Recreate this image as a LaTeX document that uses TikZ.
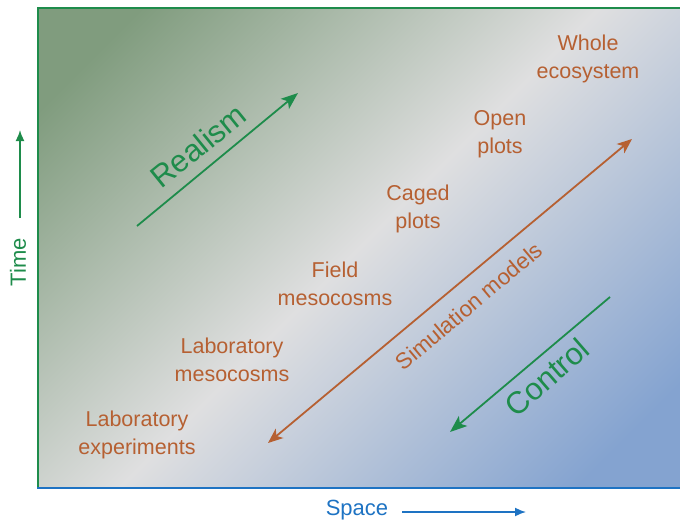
\documentclass[tikz,border=0pt]{standalone}
\usepackage{fontspec}
\setmainfont{Liberation Sans}
\usetikzlibrary{arrows.meta}

\definecolor{bgGreen}{RGB}{128,156,126}
\definecolor{bgGrey}{RGB}{223,223,224}
\definecolor{bgBlue}{RGB}{132,163,208}
\definecolor{ecoGreen}{RGB}{30,140,75}
\definecolor{ecoBrown}{RGB}{182,96,50}
\definecolor{axisBlue}{RGB}{30,115,195}

% diagonal background: green -> grey -> blue
\pgfdeclarehorizontalshading{scaleshade}{100bp}{color(0bp)=(bgGreen); color(21bp)=(bgGreen); color(50bp)=(bgGrey); color(79bp)=(bgBlue); color(100bp)=(bgBlue)}

\tikzset{
  scalelabel/.style={text=ecoBrown, align=center, inner sep=0pt,
    font=\fontsize{21.5}{27.5}\selectfont},
  trendline/.style={draw=ecoGreen, line width=1.8pt,
    -{Stealth[length=17pt,width=13pt,inset=4pt]}},
  trendtext/.style={text=ecoGreen, inner sep=0pt, font=\fontsize{31}{36}\selectfont},
  simline/.style={draw=ecoBrown, line width=1.8pt,
    {Stealth[length=15pt,width=12pt,inset=4pt]}-{Stealth[length=15pt,width=12pt,inset=4pt]}},
  axislabel/.style={inner sep=0pt, font=\fontsize{22}{26}\selectfont},
  axisarrow/.style={line width=1.6pt, -{Latex[length=11pt,width=9pt]}},
}

\begin{document}
\begin{tikzpicture}[x=1pt,y=-1pt]
\useasboundingbox (0,0) rectangle (680,525);

% shaded panel with its frame
\shade[shading=scaleshade, shading angle=-45] (38,8) rectangle (680,488);
\draw[ecoGreen, line width=2pt] (680,8) -- (38,8) -- (38,488);
\draw[axisBlue, line width=2pt] (37,488) -- (680,488);

% axes
\node[axislabel, text=ecoGreen, rotate=90] (time) at (18,262) {Time};
\coordinate (timeA) at (20,218);
\coordinate (timeB) at (20,130);
\draw[axisarrow, ecoGreen] (timeA) -- (timeB);

\node[axislabel, text=axisBlue] (space) at (357,510) {Space};
\coordinate (spaceA) at (402,512);
\coordinate (spaceB) at (526,512);
\draw[axisarrow, axisBlue] (spaceA) -- (spaceB);

% study scales
\node[scalelabel] (whole) at (588,59) {Whole\\ecosystem};
\node[scalelabel] (open)  at (500,134) {Open\\plots};
\node[scalelabel] (caged) at (418,209) {Caged\\plots};
\node[scalelabel] (field) at (335,284) {Field\\mesocosms};
\node[scalelabel] (labm)  at (232,360) {Laboratory\\mesocosms};
\node[scalelabel] (labe)  at (137,435) {Laboratory\\experiments};

% realism
\coordinate (realA) at (137,226);
\coordinate (realB) at (298,93);
\draw[trendline] (realA) -- (realB);
\node[trendtext, rotate=39] (realism) at (198,146) {Realism};

% control
\coordinate (ctrlA) at (610,297);
\coordinate (ctrlB) at (450,432);
\draw[trendline] (ctrlA) -- (ctrlB);
\node[trendtext, rotate=41] (control) at (547,377) {Control};

% simulation models
\coordinate (simA) at (268,443);
\coordinate (simB) at (632,139);
\draw[simline] (simA) -- (simB);
\node[text=ecoBrown, inner sep=0pt, rotate=40, font=\fontsize{22.5}{26}\selectfont] (sim) at (469,306) {Simulation models};
\end{tikzpicture}
\end{document}
